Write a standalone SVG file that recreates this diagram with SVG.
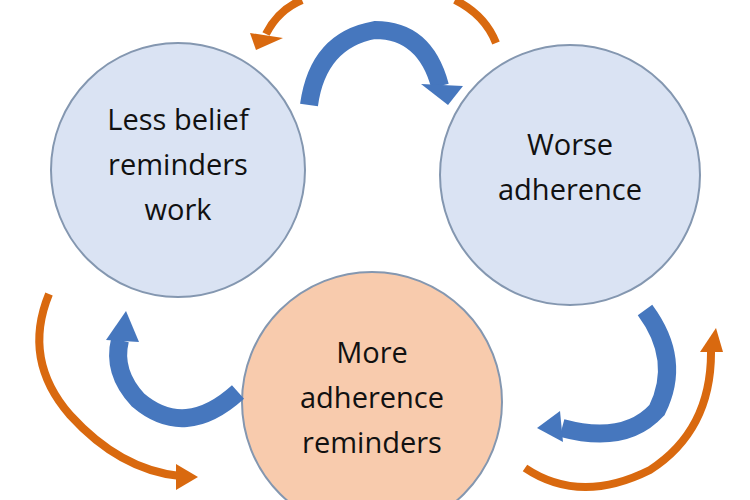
<svg xmlns="http://www.w3.org/2000/svg" width="750" height="500" viewBox="0 0 750 500">
<style>
.c{fill:#dae3f3;stroke:#8497b0;stroke-width:2}
.o{fill:#f8cbad;stroke:#8497b0;stroke-width:2}
.t{font-family:"Open Sans","Liberation Sans",sans-serif;font-size:29px;fill:#111;text-anchor:middle}
.b{fill:none;stroke:#4677be;stroke-width:18}
.bh{fill:#4677be}
.r{fill:none;stroke:#d9690f;stroke-width:8}
.rh{fill:#d9690f}
</style>
<rect width="750" height="500" fill="#fff"/>
<g id="n1"><circle class="c" cx="178" cy="170" r="127"/><text class="t" x="178" y="130">Less belief</text><text class="t" x="178" y="175">reminders</text><text class="t" x="178" y="220">work</text></g>
<g id="n2"><circle class="c" cx="570" cy="175" r="130"/><text class="t" x="570" y="155">Worse</text><text class="t" x="570" y="200">adherence</text></g>
<g id="n3"><circle class="o" cx="372" cy="402" r="130"/><text class="t" x="372" y="363">More</text><text class="t" x="372" y="408">adherence</text><text class="t" x="372" y="453">reminders</text></g>
<g id="connectors">
<path class="b" d="M309,105 Q 318,40 375,30 Q 425,30 440,86"/>
<polygon class="bh" points="421,84 463,86 448,105"/>
<path class="b" d="M238,392 Q 185,440 138,400 Q 112,372 120,340"/>
<polygon class="bh" points="106,340 139,342 126,311"/>
<path class="b" d="M645,310 Q 682,360 657,410 Q 625,445 562,428"/>
<polygon class="bh" points="560,411 537,428 563,442"/>
<path class="r" d="M49,294 Q 22,360 70,415 Q 120,470 180,476"/>
<polygon class="rh" points="176,464 198,477 176,490"/>
<path class="r" d="M525,468 Q 580,505 650,470 Q 712,430 711,350"/>
<polygon class="rh" points="700,352 723,352 716,328"/>
<path class="r" d="M302,0 Q 278,10 266,34"/>
<polygon class="rh" points="250,33 256,50 283,38"/>
<path class="r" d="M455,0 Q 485,15 496,43"/>
</g>
</svg>
